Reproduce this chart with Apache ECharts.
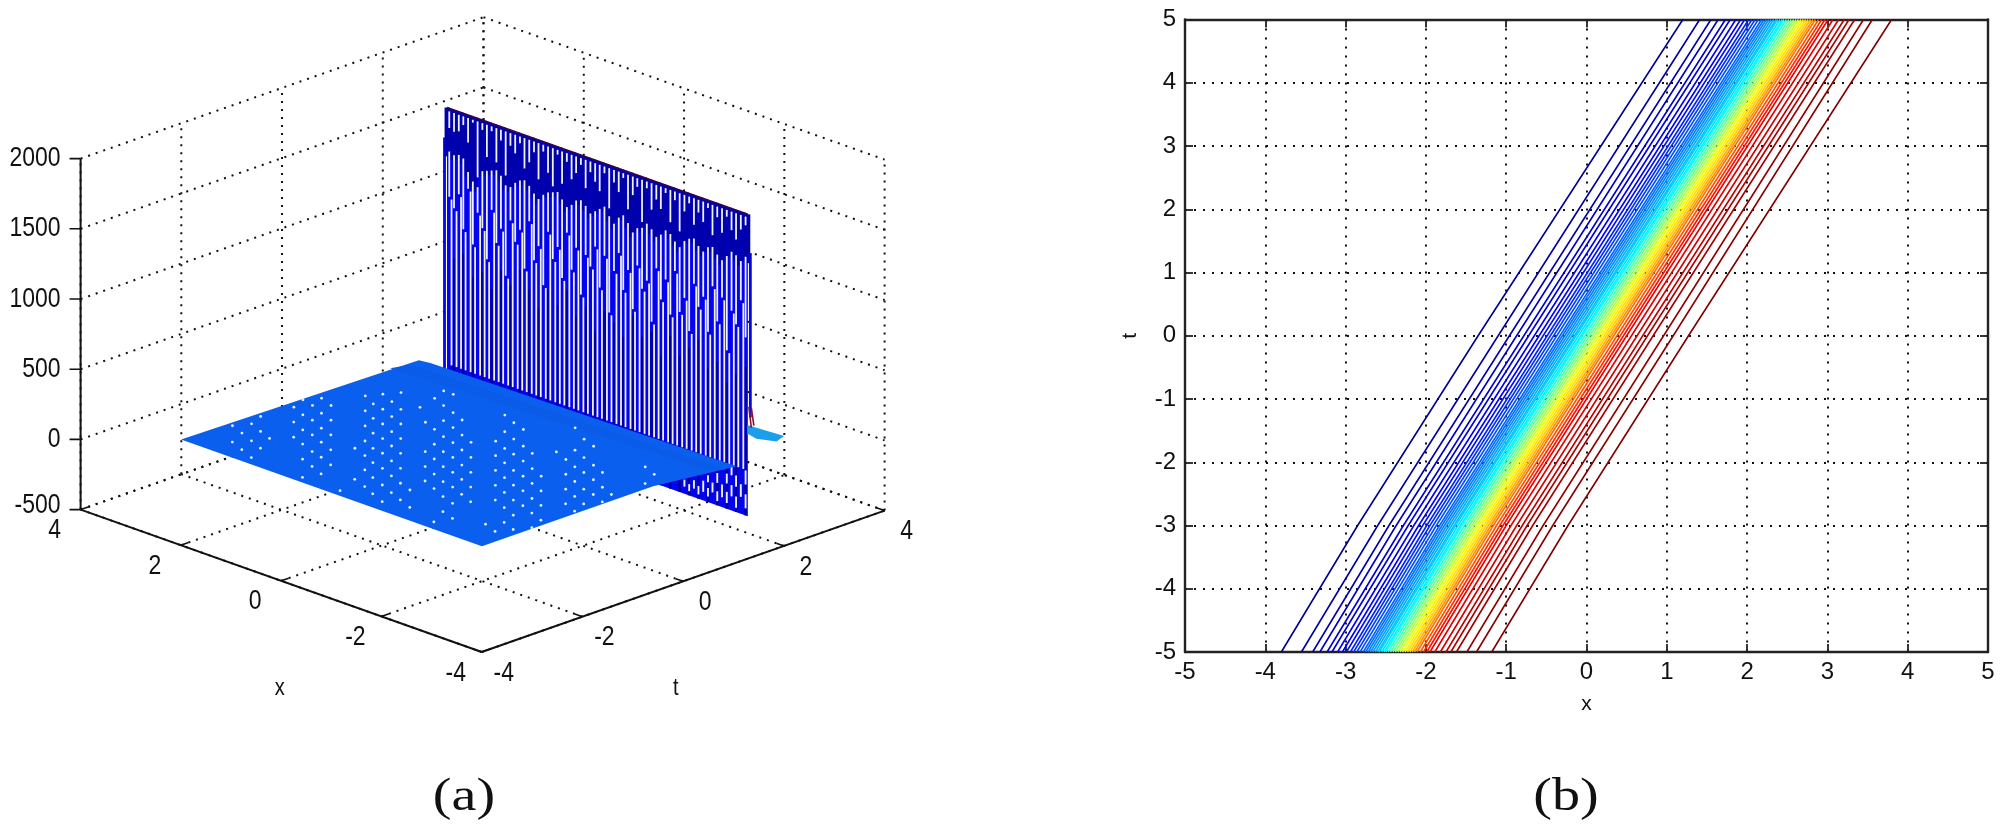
<!DOCTYPE html>
<html>
<head>
<meta charset="utf-8">
<title>chart</title>
<script src="https://cdn.jsdelivr.net/npm/echarts@6/dist/echarts.min.js"></script>
<style>
  html, body { margin: 0; padding: 0; background: #fff; }
  #chart { width: 2000px; height: 829px; }
</style>
</head>
<body>
<div id="chart"></div>
<script>
// (a) 3d axes
const floorTicks = [-4, -2, 0, 2, 4];
const heightTicks = [-500, 0, 500, 1000, 1500, 2000];

// (a) flat part of the surface, x / t / height of the outline
const planeX = [3, -3, -3, -3, 2.85, 3];
const planeT = [-3, -3, 0.4, 2.06, 1.8, 1.72];
const planeH = [0, 0, 0, -66, -40, -30];
const ridgeX = [3, -3, -3, 3];
const ridgeT = [1.15, 1.45, 1.85, 1.55];
const tailX = [-3, -3, -3, -3, -3];
const tailT = [2.27, 3, 2.85, 2.45, 2.27];
const tailH = [200, 30, 10, 80, 140];

// (a) the wall of mesh lines at t = 2.28
const wallT = 2.28;
const wallTop = 1700;
const wallBottom = -450;
const wallX = [3, 2.91, 2.81, 2.72, 2.63, 2.53, 2.44, 2.34, 2.25, 2.16, 2.06, 1.97, 1.88, 1.78, 1.69, 1.59, 1.5, 1.41, 1.31, 1.22, 1.13, 1.03, 0.94, 0.84, 0.75, 0.66, 0.56, 0.47, 0.38, 0.28, 0.19, 0.09, 0, -0.09, -0.19, -0.28, -0.38, -0.47, -0.56, -0.66, -0.75, -0.84, -0.94, -1.03, -1.13, -1.22, -1.31, -1.41, -1.5, -1.59, -1.69, -1.78, -1.88, -1.97, -2.06, -2.16, -2.25, -2.34, -2.44, -2.53, -2.63, -2.72, -2.81, -2.91, -3];
const stripeTopEnd = [1560, 1546, 1560, 1616, 1504, 1658, 1280, 1630, 1448, 1644, 1434, 1602, 1364, 1588, 1546, 1630, 1462, 1518, 1602, 1420, 1630, 1490, 1406, 1644, 1448, 1616, 1504, 1560, 1630, 1476, 1602, 1546, 1490, 1630, 1392, 1588, 1532, 1644, 1434, 1546, 1616, 1378, 1630, 1490, 1574, 1518, 1644, 1448, 1616, 1406, 1560, 1630, 1490, 1588, 1532, 1644, 1462, 1602, 1504, 1630, 1546, 1490, 1574, 1616];
const stripeMidStart = [1392, 1378, 1392, 1378, 1294, 1238, 1210, 1336, 1350, 1364, 1378, 1350, 1294, 1294, 1336, 1364, 1378, 1350, 1308, 1280, 1322, 1350, 1364, 1378, 1336, 1294, 1322, 1364, 1378, 1350, 1308, 1336, 1364, 1392, 1336, 1294, 1350, 1378, 1336, 1280, 1322, 1336, 1378, 1350, 1308, 1336, 1378, 1364, 1322, 1294, 1350, 1378, 1392, 1350, 1322, 1364, 1378, 1336, 1308, 1350, 1392, 1378, 1350, 1392];
const stripeMidEnd = [1070, 1000, 1112, 874, 1175, 790, 1028, 930, 720, 1084, 860, 972, 650, 1056, 916, 1014, 748, 1098, 832, 944, 678, 1070, 888, 986, 776, 1112, 860, 1028, 706, 1000, 930, 1084, 804, 1042, 650, 958, 1098, 846, 1000, 734, 1056, 902, 972, 692, 1084, 874, 1028, 790, 1112, 832, 944, 720, 1070, 916, 1000, 762, 1098, 860, 1042, 678, 972, 888, 1070, 818];
const wallShade = [null, 640, null, 700, null, 560, null, 620, null, 520, null, 680, null, 590, null, 730, null, 610, null, 500, null, 660, null, 570, null, 700, null, 540, null, 630, null, 480, null, 650, null, 590, null, 510, null, 690, null, 560, null, 620, null, 470, null, 640, null, 520, null, 600, null, 680, null, 500, null, 570, null, 450, null, 530, null, 610, null, 490];
const dashColumn = [63, 63, 62, 61, 61, 60, 60, 59, 59, 58, 57, 57, 56, 55, 55, 54, 53, 52, 51, 50];
const dashFrom = [-400, -230, -330, -420, -270, -350, -200, -410, -270, -380, -420, -290, -370, -410, -310, -390, -420, -390, -420, -400];
const dashTo = [-300, -130, -240, -340, -190, -270, -130, -330, -200, -290, -350, -220, -300, -350, -260, -310, -360, -330, -370, -350];

// (a) white specks on the flat part, one list per screen column: t-x, then the x+t values
const speckU = [-4.98, -4.79, -4.6, -4.42, -4.24, -3.76, -3.58, -3.39, -3.21, -3.02, -2.83, -2.54, -2.34, -2.18, -1.99, -1.81, -1.63, -1.44, -1.25, -1.14, -0.96, -0.78, -0.59, -0.41, -0.23, 0.07, 0.26, 0.44, 0.62, 0.81, 0.99, 1.17, 1.47, 1.66, 1.84, 2.02, 2.21, 2.39, 2.57, 3.24, 3.42];
const speckV = [
  [0.78, -0.14], [0.37, -0.57], [0.89, -0.07, -1.01], [1.31, 0.46, -0.48], [0.07],
  [1.83, 0.99, 0.14], [2.25, 1.4, 0.55, -0.25, -1.1, -2.13], [1.93, 1.1, 0.27, -0.67, -1.51],
  [2.34, 1.49, 0.65, -0.14, -0.99, -1.93], [1.93, 1.1, 0.27, -0.57, -1.42], [-2.87],
  [-0.48, -2.23], [2.47, 1.63, 0.78, -0.07, -0.89, -1.7, -2.64],
  [2.02, 1.21, 0.37, -0.48, -1.29, -2.13, -3.05], [2.57, 1.72, 0.89, 0.07, -0.76, -1.61, -2.55, -3.49],
  [2.15, 1.31, 0.46, -0.35, -1.19, -2.04, -2.98], [2.66, 1.72, 0.89, 0.07, -0.76, -1.61, -2.45, -3.39],
  [-2.83, -3.81], [1.83], [0.99, -0.67, -1.51, -2.32], [2.34, 0.59, -0.25, -1.08, -1.93, -2.75, -4.63],
  [2.76, 1.93, 1.08, 0.18, -0.67, -1.51, -2.36, -3.2, -4.05], [2.57, 1.53, 0.69, -0.16, -0.99, -1.83, -2.66, -3.58, -4.43],
  [1.12, 0.27, -0.57, -1.42, -2.23, -3.07], [-0.14, -0.99, -1.83, -2.66, -3.49], [-4.75],
  [-0.07, -0.89, -1.72, -2.56, -3.39, -5.16], [1.4, 0.46, -0.48, -1.29, -2.13, -2.96, -3.82, -4.65],
  [0.97, 0.05, -0.8, -1.72, -2.55, -3.39, -4.24, -5.05], [0.59, -0.35, -1.19, -2.04, -2.87, -3.71],
  [-0.76, -1.62, -2.45, -3.3, -4.12, -4.95], [-2.04, -2.87, -3.69, -4.52], [-0.67],
  [-1.1, -1.93, -2.77, -3.6], [0.69, -0.57, -1.51, -2.34, -3.18, -4.01], [0.05, -0.99, -1.83, -2.77, -3.6],
  [-0.35, -1.42, -2.24, -3.07], [-1.83, -2.66, -3.49], [-3.07], [-1.51, -2.45], [-1.93]
];

// (b) contour lines: x of every line at each row of t
const contourT = [-5, -3, 0, 5];
const contourAtMinus5 = [-3.8, -3.55, -3.41, -3.32, -3.23, -3.17, -3.1, -3.04, -2.99, -2.94, -2.9, -2.86, -2.82, -2.78, -2.75, -2.72, -2.69, -2.66, -2.63, -2.6, -2.58, -2.55, -2.52, -2.5, -2.47, -2.44, -2.41, -2.38, -2.35, -2.32, -2.29, -2.26, -2.23, -2.2, -2.17, -2.14, -2.11, -2.07, -2.03, -1.99, -1.95, -1.89, -1.82, -1.75, -1.69, -1.62, -1.49, -1.37, -1.18];
const contourAtMinus3 = [-2.85, -2.6, -2.46, -2.37, -2.28, -2.22, -2.15, -2.09, -2.04, -1.99, -1.95, -1.91, -1.87, -1.83, -1.8, -1.77, -1.74, -1.71, -1.68, -1.65, -1.63, -1.6, -1.57, -1.55, -1.52, -1.49, -1.46, -1.43, -1.4, -1.37, -1.34, -1.31, -1.28, -1.25, -1.22, -1.19, -1.16, -1.12, -1.08, -1.04, -1, -0.94, -0.87, -0.8, -0.74, -0.67, -0.54, -0.42, -0.23];
const contourAtZero = [-1.35, -1.1, -0.96, -0.87, -0.78, -0.72, -0.65, -0.59, -0.54, -0.49, -0.45, -0.41, -0.37, -0.33, -0.3, -0.27, -0.24, -0.21, -0.18, -0.15, -0.13, -0.1, -0.07, -0.05, -0.02, 0.01, 0.04, 0.07, 0.1, 0.13, 0.16, 0.19, 0.22, 0.25, 0.28, 0.31, 0.34, 0.38, 0.42, 0.46, 0.5, 0.56, 0.63, 0.7, 0.76, 0.83, 0.96, 1.08, 1.27];
const contourAtPlus5 = [1.2, 1.41, 1.55, 1.64, 1.73, 1.79, 1.86, 1.92, 1.97, 2.02, 2.06, 2.1, 2.14, 2.18, 2.21, 2.24, 2.27, 2.3, 2.33, 2.36, 2.38, 2.41, 2.44, 2.46, 2.49, 2.52, 2.55, 2.58, 2.61, 2.64, 2.67, 2.7, 2.73, 2.76, 2.79, 2.82, 2.85, 2.89, 2.93, 2.97, 3.01, 3.07, 3.14, 3.21, 3.27, 3.34, 3.45, 3.56, 3.8];
const contourColors = ['#00008f', '#00009f', '#0000af', '#0000bf', '#0000cf', '#0000df', '#0000ef', '#0000ff', '#0010ff', '#0020ff', '#0030ff', '#0040ff', '#0050ff', '#0060ff', '#0070ff', '#0080ff', '#0090ff', '#00a0ff', '#00b0ff', '#00c0ff', '#00d0ff', '#00e0ff', '#00f0ff', '#10ffef', '#30ffcf', '#50ffaf', '#70ff8f', '#90ff6f', '#b0ff4f', '#d0ff2f', '#f0ff0f', '#ffef00', '#ffdf00', '#ffcf00', '#ffb000', '#ff9000', '#ff7000', '#ff5000', '#ff3000', '#ff1000', '#f00000', '#e00000', '#d00000', '#c00000', '#b00000', '#a00000', '#900000', '#880000', '#800000'];

const INK = '#111';
const TICK_FONT = '23px "Liberation Sans"';

// view of the 3d box on the page, fitted to the corners of the reference
function project(x, t, h) {
  const a = (x + 4) / 8;
  const b = (t + 4) / 8;
  const c = (h + 500) / 2500;
  return [481.7 - 401.1 * a + 402.9 * b, 652 - 142.4 * a - 141.4 * b - 351 * c];
}

function segments(rows, color, width, dash, z) {
  return {
    type: 'custom', xAxisIndex: 0, yAxisIndex: 0, silent: true, clip: false, z: z,
    data: rows,
    renderItem: function (params, api) {
      const p = api.coord(project(api.value(0), api.value(1), api.value(2)));
      const q = api.coord(project(api.value(3), api.value(4), api.value(5)));
      return {
        type: 'line',
        shape: { x1: p[0], y1: p[1], x2: q[0], y2: q[1] },
        style: { stroke: color, lineWidth: width, lineDash: dash }
      };
    }
  };
}

function polygon(xs, ts, hs, color, z) {
  return {
    type: 'custom', xAxisIndex: 0, yAxisIndex: 0, silent: true, clip: false, z: z,
    data: [[0, 0]],
    renderItem: function (params, api) {
      return {
        type: 'polygon',
        shape: { points: xs.map((x, i) => api.coord(project(x, ts[i], hs[i]))) },
        style: { fill: color }
      };
    }
  };
}

function labels3d(items) {
  return {
    type: 'custom', xAxisIndex: 0, yAxisIndex: 0, silent: true, clip: false, z: 8,
    data: items.map(() => [0, 0]),
    renderItem: function (params, api) {
      const item = items[params.dataIndex];
      const p = api.coord(project(item.at[0], item.at[1], item.at[2]));
      return {
        type: 'text',
        x: p[0] + item.dx, y: p[1] + item.dy, scaleY: 1.2,
        style: { text: item.text, fill: INK, font: item.font || TICK_FONT, align: item.align || 'center', verticalAlign: 'middle' }
      };
    }
  };
}

// box of the 3d plot
const dotted = [];
const solid = [];
const ticks3d = [];
floorTicks.forEach(v => {
  dotted.push([v, -4, -500, v, 4, -500]);
  dotted.push([-4, v, -500, 4, v, -500]);
  dotted.push([4, v, -500, 4, v, 2000]);
  dotted.push([v, 4, -500, v, 4, 2000]);
  ticks3d.push([v, -4, -500, v, -3.85, -500]);
  ticks3d.push([-4, v, -500, -3.85, v, -500]);
});
heightTicks.forEach(h => {
  dotted.push([4, -4, h, 4, 4, h]);
  dotted.push([4, 4, h, -4, 4, h]);
  ticks3d.push([4, -4, h, 4.11, -4.11, h]);
});
solid.push([4, -4, -500, -4, -4, -500]);
solid.push([-4, -4, -500, -4, 4, -500]);
solid.push([4, -4, -500, 4, -4, 2000]);

// wall rows
const wallNavyRows = wallX.map((x, i) => [x, wallT, wallTop, x, wallT, stripeMidStart[Math.min(i, 63)] - 40]);
const stripeX = wallX.slice(1).map((x, i) => (x + wallX[i]) / 2);
const stripeRows = [];
stripeX.forEach((x, i) => {
  stripeRows.push([x, wallT, wallTop - 22, x, wallT, stripeTopEnd[i]]);
  stripeRows.push([x, wallT, stripeMidStart[i], x, wallT, stripeMidEnd[i]]);
  if (i < 63) {
    stripeRows.push([wallX[i + 1], wallT, stripeMidEnd[i] - 14, wallX[i + 1], wallT, -125]);
  }
});
// navy shows in every other gap, below where the stripe has jumped sideways
const wallShadeRows = [];
stripeX.forEach((x, i) => {
  if (wallShade[i] !== null) {
    wallShadeRows.push([x, wallT, Math.min(wallShade[i], stripeMidEnd[i] - 20), x, wallT, wallBottom]);
  }
});
const dashRows = dashColumn.map((c, i) => [stripeX[c], wallT, dashFrom[i], stripeX[c], wallT, dashTo[i]]);

// specks
const speckData = [];
speckU.forEach((u, i) => {
  speckV[i].forEach(v => speckData.push(project((v - u) / 2, (u + v) / 2, 0)));
});

const labelItems = [];
heightTicks.forEach(h => {
  labelItems.push({ text: String(h), at: [4, -4, h], dx: -20, dy: h === -500 ? -4 : 0, align: 'right' });
});
floorTicks.forEach(v => {
  labelItems.push({ text: String(v), at: [v, -4, -500], dx: -26, dy: 21 });
  labelItems.push({ text: String(v), at: [-4, v, -500], dx: 22, dy: 21 });
});
labelItems.push({ text: 'x', at: [-4, -4, -500], dx: -202, dy: 36, font: '20px "Liberation Sans"' });
labelItems.push({ text: 't', at: [-4, -4, -500], dx: 194, dy: 36, font: '20px "Liberation Sans"' });

const series = [
  segments(dotted, INK, 2, [2, 6], 1),
  segments(solid, INK, 2, null, 7),
  segments(ticks3d, INK, 1.6, null, 7),
  polygon([3, -3, -3, 3], [wallT, wallT, wallT, wallT], [wallTop, wallTop, wallBottom, wallBottom], '#0404f0', 2),
  segments(wallNavyRows, '#0000ac', 4.9, null, 3),
  segments(wallShadeRows, '#0000a0', 2.6, null, 3),
  segments([[3.05, wallT, 1480, 3.05, wallT, wallBottom], [-3.05, wallT, 1430, -3.05, wallT, 260]], '#0404f0', 2.8, null, 2),
  segments(stripeRows, '#eef0fb', 1.8, null, 4),
  segments(dashRows, '#eef0fb', 1.9, null, 4),
  segments([[3, wallT, wallTop, -3, wallT, wallTop]], '#3a0048', 1.6, null, 4),
  polygon(tailX, tailT, tailH, '#1c9fea', 4),
  segments([[-3.02, wallT, 330, -3.07, wallT, 190], [-3.07, wallT, 330, -3.12, wallT, 210]], '#8a1030', 1.6, null, 4),
  polygon(planeX, planeT, planeH, '#0b5fee', 5),
  polygon(ridgeX, ridgeT, [-15, -15, -66, -40], '#0a5be8', 5),
  {
    type: 'scatter', xAxisIndex: 0, yAxisIndex: 0, silent: true, z: 6,
    symbolSize: 2.8, itemStyle: { color: '#e4f2ff', opacity: 1 },
    data: speckData
  },
  labels3d(labelItems)
];

// contours of (b)
contourColors.forEach((color, i) => {
  const xs = [contourAtMinus5[i], contourAtMinus3[i], contourAtZero[i], contourAtPlus5[i]];
  series.push({
    type: 'line', xAxisIndex: 1, yAxisIndex: 1, silent: true, showSymbol: false, z: 3,
    lineStyle: { color: color, width: 1.6 },
    data: xs.map((x, k) => [x, contourT[k]])
  });
});

const dotLine = { show: true, lineStyle: { color: INK, width: 2, type: [2, 7] } };
const boxLine = { show: true, onZero: false, lineStyle: { color: '#222', width: 2.4 } };
const inTick = { show: true, inside: true, length: 8, lineStyle: { color: '#222', width: 1.8 } };
const labelStyle = { color: INK, fontSize: 24, fontFamily: 'Liberation Sans', formatter: v => String(v) };
const nameStyle = { color: INK, fontSize: 21, fontFamily: 'Liberation Sans' };

const chart = echarts.init(document.getElementById('chart'), null, { renderer: 'canvas' });
chart.setOption({
  animation: false,
  backgroundColor: '#fff',
  grid: [
    { left: 0, top: 0, right: 0, bottom: 0, show: false },
    { left: 1185, top: 19.5, width: 803, height: 632.5, show: false }
  ],
  xAxis: [
    { type: 'value', gridIndex: 0, min: 0, max: 2000, show: false },
    {
      type: 'value', gridIndex: 1, min: -5, max: 5, interval: 1, position: 'bottom',
      axisLine: boxLine, axisTick: inTick, splitLine: dotLine,
      axisLabel: Object.assign({ margin: 8 }, labelStyle),
      name: 'x', nameLocation: 'middle', nameGap: 42, nameTextStyle: nameStyle
    },
    {
      type: 'value', gridIndex: 1, min: -5, max: 5, interval: 1, position: 'top',
      axisLine: boxLine, axisTick: inTick, splitLine: { show: false }, axisLabel: { show: false }
    }
  ],
  yAxis: [
    { type: 'value', gridIndex: 0, min: 0, max: 829, inverse: true, show: false },
    {
      type: 'value', gridIndex: 1, min: -5, max: 5, interval: 1, position: 'left',
      axisLine: boxLine, axisTick: inTick, splitLine: dotLine,
      axisLabel: Object.assign({ margin: 9 }, labelStyle),
      name: 't', nameLocation: 'middle', nameGap: 44, nameRotate: 90, nameTextStyle: nameStyle
    },
    {
      type: 'value', gridIndex: 1, min: -5, max: 5, interval: 1, position: 'right',
      axisLine: boxLine, axisTick: inTick, splitLine: { show: false }, axisLabel: { show: false }
    }
  ],
  graphic: [
    { type: 'text', x: 464, y: 798, scaleX: 1.22, style: { text: '(a)', fill: '#111', font: '46px "Liberation Serif"', align: 'center', verticalAlign: 'middle' } },
    { type: 'text', x: 1566, y: 798, scaleX: 1.22, style: { text: '(b)', fill: '#111', font: '46px "Liberation Serif"', align: 'center', verticalAlign: 'middle' } }
  ],
  series: series
});
</script>
</body>
</html>
